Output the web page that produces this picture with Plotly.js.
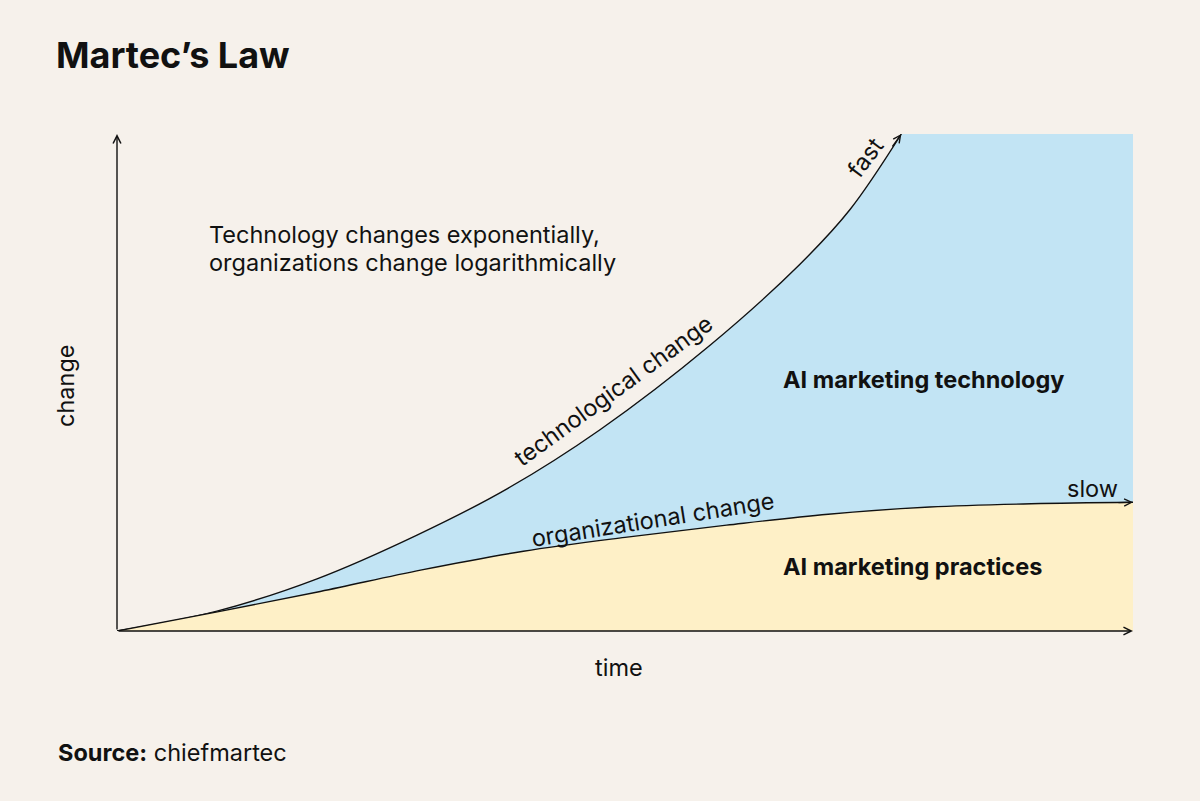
<!DOCTYPE html>
<html>
<head>
<meta charset="utf-8">
<script src="https://cdn.plot.ly/plotly-3.0.1.min.js"></script>
<style>
  html, body { margin: 0; padding: 0; background: #F6F1EB; }
  #chart { width: 1200px; height: 801px; }
</style>
</head>
<body>
<div id="chart"></div>
<script>
// ---- data ----
const techTime   = [0, 9.84, 19.69, 29.53, 38.39, 47.54, 58.37, 67.22, 72.15, 77.2];
const techChange = [0, 4.0, 10.5, 19.3, 28.6, 40.5, 57.5, 73.8, 84.8, 100];
const orgTime    = [0, 10, 20, 30, 40, 50, 60, 70, 80, 90, 100];
const orgChange  = [0, 3.9, 7.95, 12.3, 16.05, 18.85, 21.3, 23.5, 24.95, 25.6, 25.9];

const BG = '#F6F1EB', BLUE = '#C2E4F4', YELLOW = '#FEF0C7', INK = '#111111';
const FONT = 'Inter, "Noto Sans", sans-serif';
const FS = 23.5;

// layout geometry helpers (pixel -> paper)
const L = 117, R = 67, T = 134, B = 170, W = 1200, H = 801;
const pw = W - L - R, ph = H - T - B;
const px = v => (v - L) / pw;
const py = v => (H - B - v) / ph;

const traces = [
  { // blue area under technological change
    x: techTime, y: techChange, mode: 'lines', type: 'scatter',
    line: { color: INK, width: 1.4, shape: 'spline', smoothing: 1 },
    fill: 'tozeroy', fillcolor: BLUE, hoverinfo: 'skip'
  },
  { // yellow area under organizational change
    x: orgTime, y: orgChange, mode: 'lines', type: 'scatter',
    line: { color: INK, width: 1.4, shape: 'spline', smoothing: 1 },
    fill: 'tozeroy', fillcolor: YELLOW, hoverinfo: 'skip'
  }
];

const nT = techTime.length, nO = orgTime.length;

function txt(text, x, y, opts) {
  return Object.assign({ text: text, xref: 'paper', yref: 'paper', x: px(x), y: py(y),
    xanchor: 'center', yanchor: 'middle', showarrow: false,
    font: { family: FONT, size: FS, color: INK } }, opts || {});
}

const annotations = [
  // axis arrows
  { x: 100, y: 0, xref: 'x', yref: 'y', ax: 0, ay: 0, axref: 'x', ayref: 'y',
    showarrow: true, arrowhead: 5, arrowsize: 1.1, arrowwidth: 1.4, arrowcolor: INK, text: '' },
  { x: 0, y: 100, xref: 'x', yref: 'y', ax: 0, ay: 0, axref: 'x', ayref: 'y',
    showarrow: true, arrowhead: 5, arrowsize: 1.1, arrowwidth: 1.4, arrowcolor: INK, text: '' },
  // curve end arrows
  { x: techTime[nT-1], y: techChange[nT-1], xref: 'x', yref: 'y', ax: -10, ay: 14,
    showarrow: true, arrowhead: 5, arrowsize: 1.1, arrowwidth: 1.3, arrowcolor: INK, text: '' },
  { x: orgTime[nO-1], y: orgChange[nO-1], xref: 'x', yref: 'y', ax: -16, ay: 0.3,
    showarrow: true, arrowhead: 5, arrowsize: 1.1, arrowwidth: 1.3, arrowcolor: INK, text: '' },

  // axis labels
  txt('time', 619, 667),
  txt('change', 65, 386, { textangle: -90 }),

  // description
  txt('Technology changes exponentially,', 207, 234, { xanchor: 'left' }),
  txt('organizations change logarithmically', 207, 262, { xanchor: 'left' }),

  // curve labels
  txt('technological change', 613, 390, { textangle: -36 }),
  txt('fast', 865, 157, { textangle: -53 }),
  txt('organizational change', 652, 519, { textangle: -9 }),
  txt('slow', 1092, 488),

  // area labels
  txt('<b>AI marketing technology</b>', 781, 379, { xanchor: 'left' }),
  txt('<b>AI marketing practices</b>', 781, 566, { xanchor: 'left' }),

  // source
  txt('<b>Source:</b> chiefmartec', 56, 752, { xanchor: 'left' })
];

const layout = {
  width: W, height: H,
  paper_bgcolor: BG, plot_bgcolor: BG,
  margin: { l: L, r: R, t: T, b: B },
  showlegend: false, hovermode: false,
  title: { text: '<b>Martec’s Law</b>', x: 56 / W, xanchor: 'left', xref: 'container',
           y: 1 - 55 / H, yanchor: 'middle', yref: 'container',
           font: { family: FONT, size: 36, color: INK } },
  xaxis: { range: [0, 100], visible: false, fixedrange: true },
  yaxis: { range: [0, 100], visible: false, fixedrange: true },
  shapes: [
    { type: 'rect', xref: 'x', yref: 'y', layer: 'below',
      x0: techTime[nT-1], x1: orgTime[nO-1], y0: 0, y1: techChange[nT-1],
      fillcolor: BLUE, line: { width: 2, color: BLUE } }
  ],
  annotations: annotations
};

Plotly.newPlot('chart', traces, layout, { displayModeBar: false, staticPlot: true });
</script>
</body>
</html>
